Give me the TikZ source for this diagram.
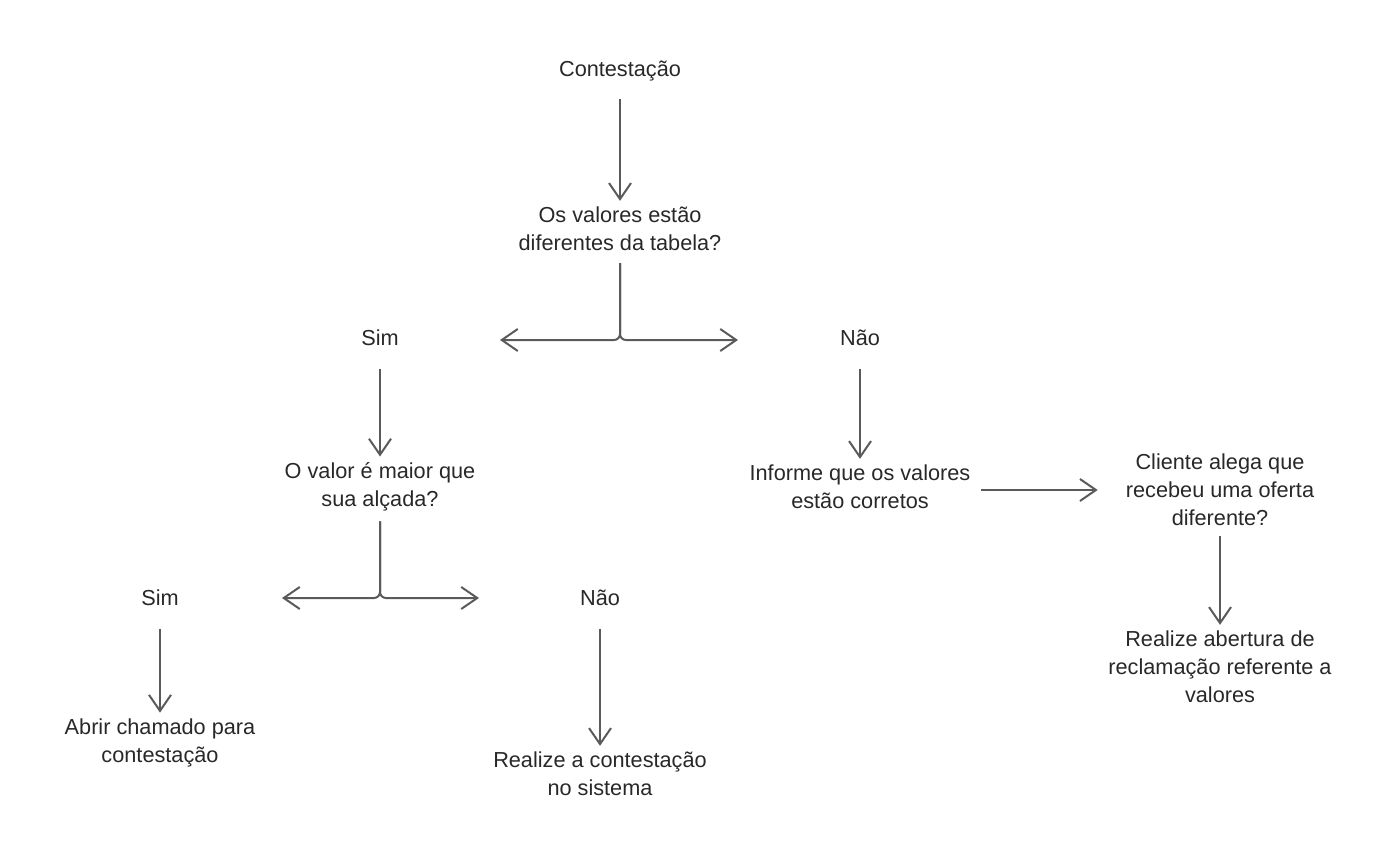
\documentclass[tikz,border=0pt]{standalone}
\usepackage{fontspec}
\setmainfont{Liberation Sans}
\usetikzlibrary{arrows.meta}
\definecolor{linegray}{HTML}{5A5A5A}
\definecolor{textgray}{HTML}{282828}
\tikzset{step box/.style={align=center,
                          inner sep=0pt,
                          text=textgray,
                          font=\fontsize{21.7}{28}\selectfont}}
\tikzset{answer box/.style={step box,
                            text height=16pt,
                            text depth=5pt,
                            outer ysep=8pt}}
\tikzset{flow/.style={draw=linegray,
                      line width=2pt,
                      shorten <=10pt,
                      shorten >=6pt,
                      -{Straight Barb[length=16pt,width=22pt]}}}

\begin{document}
\begin{tikzpicture}
      [
      x=1pt,y=-1pt,
      branch/.style={flow,shorten <=0pt,shorten >=0pt,rounded corners=6pt},
      ]
      \useasboundingbox (0,0) rectangle (1380,848);

      % nodes
      \node [answer box] (start) at (620,71) {Contestação};
      \node [step box] (q1) at (620,229) {Os valores estão\\diferentes da tabela?};
      \node [answer box] (sim1) at (380,340) {Sim};
      \node [answer box] (nao1) at (860,340) {Não};
      \node [step box] (q2) at (380,487) {O valor é maior que\\sua alçada?};
      \node [step box] (inf) at (860,487) {Informe que os valores\\estão corretos};
      \node [step box] (cli) at (1220,490) {Cliente alega que\\recebeu uma oferta\\diferente?};
      \node [step box] (rec) at (1220,667) {Realize abertura de\\reclamação referente a\\valores};
      \node [answer box] (sim2) at (160,600) {Sim};
      \node [answer box] (nao2) at (600,600) {Não};
      \node [step box] (abr) at (160,743) {Abrir chamado para\\contestação};
      \node [step box] (sis) at (600,774) {Realize a contestação\\no sistema};

      % branch ends
      \coordinate (j1l) at (500,340);
      \coordinate (j1r) at (738,340);
      \coordinate (j2l) at (282,598);
      \coordinate (j2r) at (479,598);

      % edges
      \foreach \a/\b in {start/q1,sim1/q2,nao1/inf,cli/rec,sim2/abr,nao2/sis}
      {
      \draw [flow] (\a.south) -- (\b.north);
      }

      \draw [flow,shorten <=10pt,shorten >=28pt] (inf.east |- cli) -- (cli.west);

      % branches
      \draw [branch] ([yshift=-12pt]q1.south) |- (j1l);
      \draw [branch] ([yshift=-12pt]q1.south) |- (j1r);
      \draw [branch] ([yshift=-10pt]q2.south) |- (j2l);
      \draw [branch] ([yshift=-10pt]q2.south) |- (j2r);

\end{tikzpicture}
\end{document}
